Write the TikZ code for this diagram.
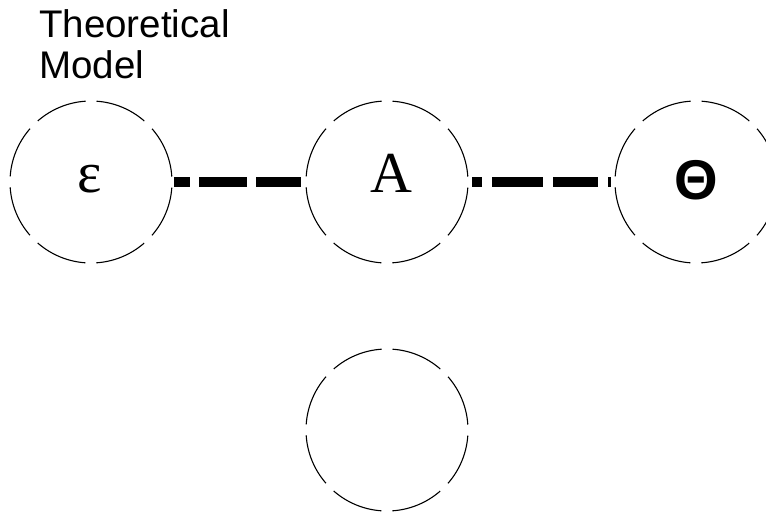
\documentclass[tikz,border=0pt]{standalone}
\usepackage{fontspec}
\setmainfont{Liberation Serif}
\newfontfamily\lsans{Liberation Sans}
\begin{document}
\begin{tikzpicture}[x=1pt,y=-1pt,
  ring/.style={circle,draw,line width=1.1pt,minimum size=162pt,inner sep=0pt,outer sep=0pt,
    dash pattern=on 52.6pt off 11pt,dash phase=58.1pt},
  conn/.style={line width=10pt},
  sym/.style={anchor=base,inner sep=0pt}]
\useasboundingbox (0,0) rectangle (766,512);
\clip (0,0) rectangle (766,512);
\node[ring] (e) at (91,182) {};
\node[ring] (A) at (387,182) {};
\node[ring] (T) at (696,182) {};
\node[ring] (B) at (387,430) {};
\node[sym,font=\fontsize{58}{60}\selectfont] (elab) at (89.5,192) {ε};
\node[sym,font=\fontsize{58}{60}\selectfont] (alab) at (391,192) {A};
\node[sym,font=\lsans\bfseries\fontsize{56}{58}\selectfont] (tlab) at (696,199) {Θ};
\node[anchor=base west,inner sep=0pt,align=left,font=\lsans\fontsize{38.5}{41}\selectfont] (title) at (39,78) {Theoretical\\Model};
\draw[conn,dash pattern=on 16pt off 9pt on 48pt off 9pt on 60pt off 9pt,shorten <=2pt,shorten >=5pt] (e) -- (A);
\draw[conn,dash pattern=on 10pt off 10pt on 51pt off 10pt on 45pt off 10pt on 5pt off 10pt,shorten <=4pt,shorten >=4pt] (A) -- (T);
\end{tikzpicture}
\end{document}
